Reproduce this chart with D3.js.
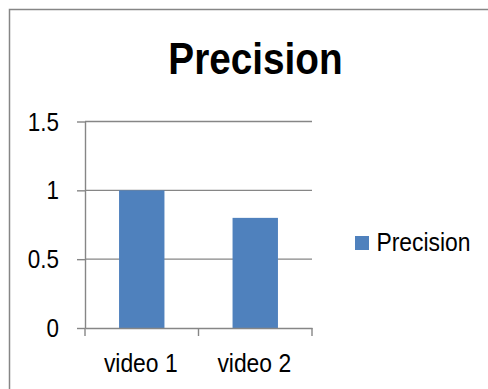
<!DOCTYPE html>
<html>
<head>
<meta charset="utf-8">
<script src="https://cdn.jsdelivr.net/npm/d3@7"></script>
<style>
  html, body { margin: 0; padding: 0; background: #fff; }
  svg { display: block; }
  text { font-family: "Liberation Sans", Arial, sans-serif; fill: #000; }
</style>
</head>
<body>
<svg id="chart" width="488" height="389"></svg>
<script>
// Chart data
const categories = ["video 1", "video 2"];
const precisionValues = [1, 0.8];
const seriesName = "Precision";
const yTicks = [0, 0.5, 1, 1.5];
const yTickLabels = ["0", "0.5", "1", "1.5"];

const svg = d3.select("#chart");
const W = 488, H = 389;
const plot = { left: 85, right: 312, top: 121.5, bottom: 328 };
const barColor = "#4F81BD";
const lineColor = "#868686";
const squeeze = 0.88; // narrow glyph width used for all labels

// Outer chart frame (runs past the right and bottom edges)
svg.append("rect")
  .attr("x", 9.5).attr("y", 9.5)
  .attr("width", 700).attr("height", 700)
  .attr("fill", "#fff")
  .attr("stroke", lineColor)
  .attr("stroke-width", 1.5);

// Helper: text drawn with horizontally narrowed glyphs
function label(parent, x, y, str, size, anchor, weight) {
  const g = parent.append("g").attr("transform", `translate(${x},${y}) scale(${squeeze},1)`);
  g.append("text")
    .attr("text-anchor", anchor || "start")
    .attr("font-size", size)
    .attr("font-weight", weight || "normal")
    .text(str);
  return g;
}

// Title
label(svg, 255.5, 74, seriesName, 44, "middle", "bold");

// Scales
const x = d3.scaleBand()
  .domain(categories)
  .range([plot.left, plot.right])
  .paddingInner(0.6)
  .paddingOuter(0.3);

const y = d3.scaleLinear()
  .domain([0, 1.5])
  .range([plot.bottom, plot.top]);

// Horizontal gridlines
svg.append("g")
  .selectAll("line")
  .data(yTicks.filter(d => d > 0))
  .join("line")
  .attr("x1", plot.left).attr("x2", plot.right)
  .attr("y1", d => y(d)).attr("y2", d => y(d))
  .attr("stroke", lineColor)
  .attr("stroke-width", 1.4);

// Bars
svg.append("g")
  .selectAll("rect")
  .data(categories.map((c, i) => ({ c, v: precisionValues[i] })))
  .join("rect")
  .attr("x", d => x(d.c))
  .attr("y", d => y(d.v))
  .attr("width", x.bandwidth())
  .attr("height", d => y(0) - y(d.v))
  .attr("fill", barColor);

// Y axis
const yAxis = svg.append("g")
  .attr("transform", `translate(${plot.left},0)`)
  .call(d3.axisLeft(y).tickValues(yTicks).tickFormat((d, i) => "").tickSize(8).tickSizeOuter(0));
yAxis.selectAll("line, path").attr("stroke", lineColor).attr("stroke-width", 1.4);
yTicks.forEach((t, i) => {
  label(svg, 59, y(t) + 9, yTickLabels[i], 25.5, "end");
});

// X axis with boundary ticks between categories
const xAxis = svg.append("g")
  .attr("transform", `translate(0,${plot.bottom})`)
  .call(d3.axisBottom(x).tickSize(0).tickSizeOuter(0).tickFormat(""));
xAxis.select("path").attr("stroke", lineColor).attr("stroke-width", 1.4);
const step = x.step();
const boundaries = d3.range(categories.length + 1).map(i => plot.left + i * (plot.right - plot.left) / categories.length);
xAxis.selectAll("line.boundary")
  .data(boundaries)
  .join("line")
  .attr("class", "boundary")
  .attr("x1", d => d).attr("x2", d => d)
  .attr("y1", 0).attr("y2", 8)
  .attr("stroke", lineColor)
  .attr("stroke-width", 1.4);
categories.forEach(c => {
  label(svg, x(c) + x.bandwidth() / 2 - 1, 371.5, c, 26, "middle");
});

// Legend
svg.append("rect")
  .attr("x", 355).attr("y", 236)
  .attr("width", 14).attr("height", 14)
  .attr("fill", barColor);
label(svg, 376.5, 251, seriesName, 26, "start");
</script>
</body>
</html>
